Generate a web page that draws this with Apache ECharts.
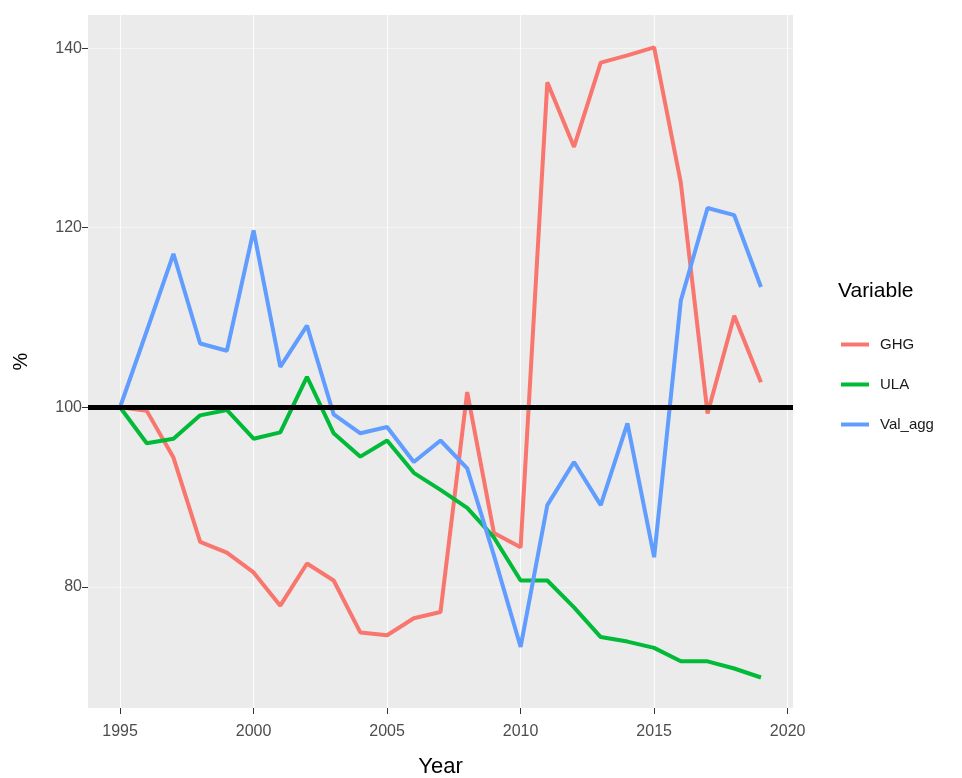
<!DOCTYPE html>
<html>
<head>
<meta charset="utf-8">
<script src="https://cdn.jsdelivr.net/npm/echarts@6/dist/echarts.min.js"></script>
<style>
html,body{margin:0;padding:0;background:#fff;}
#chart{width:962px;height:778px;}
</style>
</head>
<body>
<div id="chart"></div>
<script>
const years = [1995,1996,1997,1998,1999,2000,2001,2002,2003,2004,2005,2006,2007,2008,2009,2010,2011,2012,2013,2014,2015,2016,2017,2018,2019];
const ghg    = [100,99.6,94.4,85.0,83.8,81.6,77.9,82.6,80.7,74.9,74.6,76.5,77.2,101.7,86.0,84.4,136.2,129.0,138.4,139.2,140.1,125.0,99.3,110.2,102.8];
const ula    = [100,96.0,96.5,99.1,99.7,96.5,97.2,103.4,97.1,94.5,96.3,92.7,90.8,88.8,85.5,80.7,80.7,77.7,74.4,73.9,73.2,71.7,71.7,70.9,69.9];
const valAgg = [100,108.5,117.1,107.1,106.3,119.7,104.5,109.1,99.2,97.1,97.8,93.9,96.3,93.2,83.5,73.3,89.1,93.9,89.1,98.2,83.3,111.9,122.2,121.4,113.4];
const seriesNames = ['GHG','ULA','Val_agg'];
const seriesColors = ['#F8766D','#00BA38','#619CFF'];
const xTicks = [1995,2000,2005,2010,2015,2020];
const yTicks = [80,100,120,140];
const refLine = 100;

const chart = echarts.init(document.getElementById('chart'), null, {renderer:'canvas'});
const pair = arr => years.map((y,i)=>[y,arr[i]]);
const allSeries = [ghg, ula, valAgg];
const font = 'Liberation Sans, Arial, sans-serif';

const option = {
  animation:false,
  backgroundColor:'#ffffff',
  textStyle:{fontFamily:font},
  grid:{left:88,right:169,top:15,bottom:70,show:true,backgroundColor:'#EBEBEB',borderWidth:0,containLabel:false,outerBoundsMode:'none'},
  title:{text:'Variable',left:833,top:276,textStyle:{fontFamily:font,fontSize:21,fontWeight:'normal',color:'#000'}},
  legend:{
    data:seriesNames,orient:'vertical',left:836,top:332,icon:'rect',itemWidth:28,itemHeight:4,itemGap:25,
    textStyle:{fontFamily:font,fontSize:15,color:'#1a1a1a',padding:[0,0,0,6]}
  },
  xAxis:{
    type:'value',min:1993.8,max:2020.2,
    name:'Year',nameLocation:'middle',nameGap:48,
    nameTextStyle:{fontFamily:font,fontSize:22,color:'#000'},
    axisLine:{show:false},
    axisTick:{show:true,length:6,lineStyle:{color:'#333'},customValues:xTicks},
    axisLabel:{fontFamily:font,fontSize:16,color:'#4D4D4D',margin:16,customValues:xTicks,formatter:v=>String(v)},
    splitLine:{show:true,lineStyle:{color:'rgba(255,255,255,0.8)',width:1.2}}
  },
  yAxis:{
    type:'value',min:66.5,max:143.7,
    name:'%',nameLocation:'middle',nameGap:57,nameRotate:90,
    nameTextStyle:{fontFamily:font,fontSize:20,color:'#000'},
    axisLine:{show:false},
    axisTick:{show:true,length:6,lineStyle:{color:'#333'},customValues:yTicks},
    axisLabel:{fontFamily:font,fontSize:16,color:'#4D4D4D',margin:6,customValues:yTicks},
    splitLine:{show:true,lineStyle:{color:'rgba(255,255,255,0.5)',width:1.2}}
  },
  series: seriesNames.map((n,i)=>({
    name:n,type:'line',data:pair(allSeries[i]),showSymbol:false,symbol:'none',
    lineStyle:{color:seriesColors[i],width:4},itemStyle:{color:seriesColors[i]},z:2+i
  })).concat([{
    name:'ref',type:'line',data:[],z:10,
    markLine:{silent:true,symbol:['none','none'],label:{show:false},
      lineStyle:{color:'#000',width:5,type:'solid'},data:[{yAxis:refLine}]}
  }])
};
chart.setOption(option);
</script>
</body>
</html>
